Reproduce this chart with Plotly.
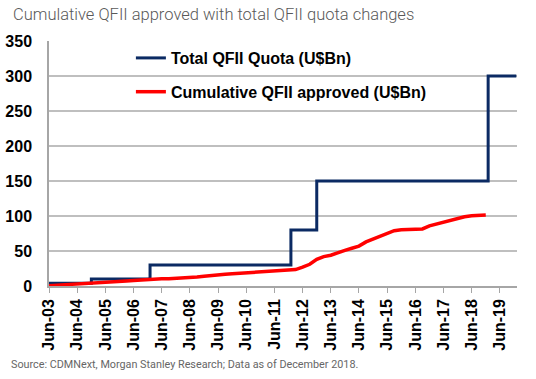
import plotly.graph_objects as go

# Total QFII quota (step changes)
quota_dates = ["2003-06-01", "2004-12-01", "2007-01-01", "2012-01-01", "2012-12-01", "2019-01-01", "2020-01-01"]
quota_values = [4, 10, 30, 80, 150, 300, 300]

# Cumulative QFII approved (quarterly readings)
approved_dates = [
    "2003-06-01", "2003-09-01", "2003-12-01", "2004-03-01",
    "2004-06-01", "2004-09-01", "2004-12-01", "2005-03-01",
    "2005-06-01", "2005-09-01", "2005-12-01", "2006-03-01",
    "2006-06-01", "2006-09-01", "2006-12-01", "2007-03-01",
    "2007-06-01", "2007-09-01", "2007-12-01", "2008-03-01",
    "2008-06-01", "2008-09-01", "2008-12-01", "2009-03-01",
    "2009-06-01", "2009-09-01", "2009-12-01", "2010-03-01",
    "2010-06-01", "2010-09-01", "2010-12-01", "2011-03-01",
    "2011-06-01", "2011-09-01", "2011-12-01", "2012-03-01",
    "2012-06-01", "2012-09-01", "2012-12-01", "2013-03-01",
    "2013-06-01", "2013-09-01", "2013-12-01", "2014-03-01",
    "2014-06-01", "2014-09-01", "2014-12-01", "2015-03-01",
    "2015-06-01", "2015-09-01", "2015-12-01", "2016-03-01",
    "2016-06-01", "2016-09-01", "2016-12-01", "2017-03-01",
    "2017-06-01", "2017-09-01", "2017-12-01", "2018-03-01",
    "2018-06-01", "2018-09-01", "2018-12-01",
]
approved_values = [
    0.5, 1.0, 1.5, 2.0,
    2.6, 3.2, 4.0, 4.6,
    5.2, 5.8, 6.5, 7.2,
    8.0, 8.8, 9.5, 10.0,
    10.2, 10.5, 10.8, 11.2,
    12.0, 12.8, 14.0, 15.2,
    16.0, 16.8, 17.5, 18.2,
    19.0, 19.6, 20.2, 20.8,
    21.2, 21.6, 22.2, 23.5,
    27.0, 31.0, 38.0, 42.0,
    44.0, 48.0, 51.0, 54.0,
    57.0, 63.0, 67.0, 72.0,
    76.0, 79.0, 80.5, 81.0,
    81.2, 81.5, 86.0, 88.5,
    92.0, 94.0, 96.5, 99.0,
    100.5, 101.0, 101.5,
]

title_text = "Cumulative QFII approved with total QFII quota changes"
source_text = "Source: CDMNext, Morgan Stanley Research; Data as of December 2018."

fig = go.Figure()
fig.add_trace(go.Scatter(
    x=quota_dates, y=quota_values, mode="lines", line_shape="hv",
    name="Total QFII Quota (U$Bn)", legendgroup="a",
    line=dict(color="#0B2A63", width=3),
))
fig.add_trace(go.Scatter(
    x=approved_dates, y=approved_values, mode="lines",
    name="Cumulative QFII approved (U$Bn)", legendgroup="b",
    line=dict(color="#FF0000", width=3.5),
))

bold = dict(family="Liberation Sans, Arial, sans-serif", size=16, color="#000000", weight="bold")

fig.update_layout(
    width=536, height=379,
    margin=dict(l=49, r=19, t=41, b=93, autoexpand=False),
    paper_bgcolor="white", plot_bgcolor="white",
    showlegend=True,
    legend=dict(x=0.175, y=1.0, xanchor="left", yanchor="top",
                bgcolor="rgba(0,0,0,0)", font=bold, tracegroupgap=10),
    xaxis=dict(
        type="date", range=["2003-06-01", "2020-01-10"],
        tick0="2003-06-01", dtick="M12", tickformat="%b-%y",
        tickangle=-90, tickfont=bold, automargin=False,
        showline=True, linecolor="#A6A6A6", linewidth=1.5,
        ticks="outside", ticklen=5, tickcolor="#A6A6A6",
        showgrid=False, zeroline=False,
    ),
    yaxis=dict(
        range=[0, 350], dtick=50, tickfont=bold, automargin=False,
        showline=True, linecolor="#A6A6A6", linewidth=1.5,
        showgrid=True, gridcolor="#BFBFBF", gridwidth=1.5,
        zeroline=False, ticks="", ticklabelstandoff=12,
    ),
    annotations=[
        dict(text=title_text, xref="paper", yref="paper", x=-0.082, y=1.11,
             xanchor="left", yanchor="middle", showarrow=False,
             font=dict(family="Roboto", size=16.5, color="#595959", weight=300)),
        dict(text=source_text, xref="paper", yref="paper", x=-0.085, y=-0.322,
             xanchor="left", yanchor="middle", showarrow=False,
             font=dict(family="Roboto", size=10.8, color="#666666")),
    ],
)

fig.write_html("out.html", config={"displayModeBar": False},
               post_script="document.body.style.margin='0';")
